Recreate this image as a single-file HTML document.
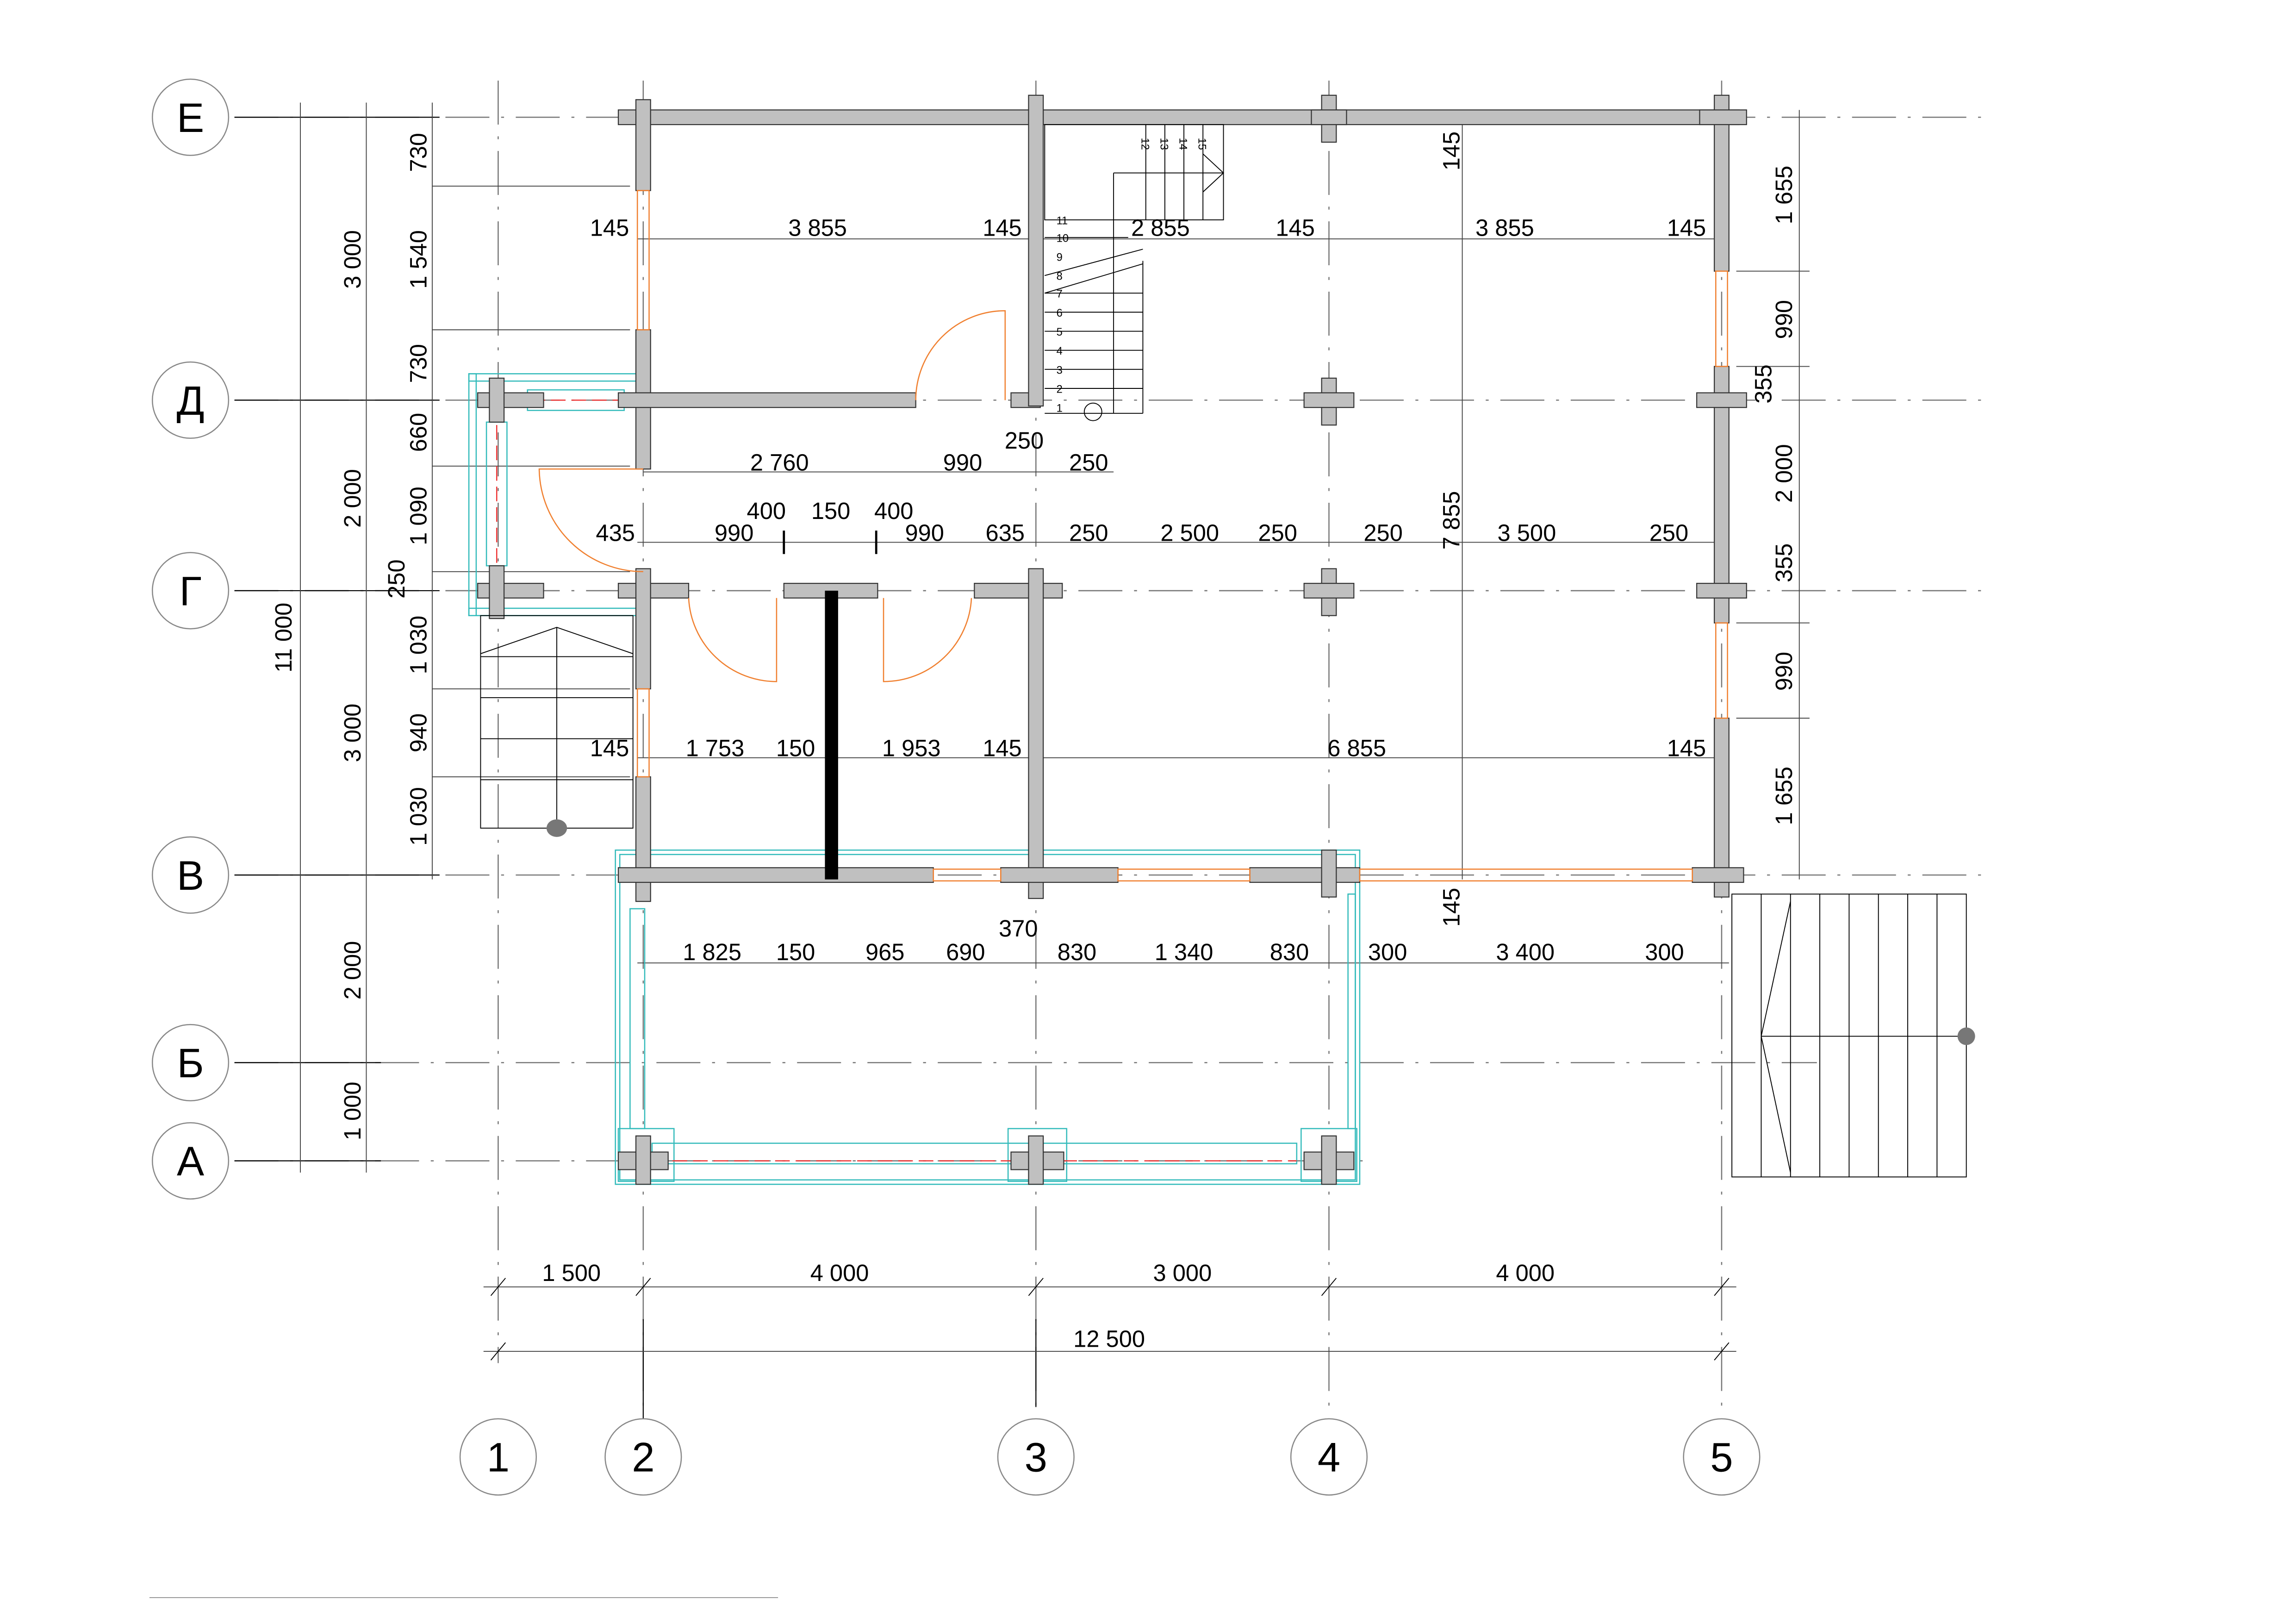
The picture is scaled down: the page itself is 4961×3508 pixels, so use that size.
<!DOCTYPE html>
<html><head><meta charset="utf-8"><style>
html,body{margin:0;padding:0;background:#fff;}
svg{display:block}
text{font-family:"Liberation Sans",sans-serif;fill:#000}
</style></head><body>
<svg width="4961" height="3508" viewBox="0 0 1567 1108" preserveAspectRatio="none" xmlns="http://www.w3.org/2000/svg">
<rect width="1567" height="1108" fill="#fff"/>
<g stroke="#777" stroke-width="0.8" stroke-dasharray="30,8,2,8" fill="none">
<line x1="160" y1="80" x2="1355" y2="80"/>
<line x1="160" y1="273" x2="1355" y2="273"/>
<line x1="160" y1="403" x2="1355" y2="403"/>
<line x1="160" y1="597" x2="1355" y2="597"/>
<line x1="160" y1="725" x2="1240" y2="725"/>
<line x1="160" y1="792" x2="930" y2="792"/>
<line x1="340" y1="55" x2="340" y2="930"/>
<line x1="439" y1="55" x2="439" y2="965"/>
<line x1="707" y1="55" x2="707" y2="965"/>
<line x1="907" y1="55" x2="907" y2="965"/>
<line x1="1175" y1="55" x2="1175" y2="965"/>
</g>
<g stroke="#000" stroke-width="0.7">
<line x1="160" y1="80" x2="300" y2="80"/><line x1="160" y1="273" x2="300" y2="273"/><line x1="160" y1="403" x2="300" y2="403"/><line x1="160" y1="597" x2="300" y2="597"/><line x1="160" y1="725" x2="260" y2="725"/><line x1="160" y1="792" x2="260" y2="792"/>
<line x1="439" y1="900" x2="439" y2="1020"/><line x1="707" y1="900" x2="707" y2="960"/>
</g>
<g fill="#fff" stroke="#888" stroke-width="0.8">
<circle cx="130" cy="80" r="26"/><circle cx="130" cy="273" r="26"/><circle cx="130" cy="403" r="26"/><circle cx="130" cy="597" r="26"/><circle cx="130" cy="725" r="26"/><circle cx="130" cy="792" r="26"/>
<circle cx="340" cy="994" r="26"/><circle cx="439" cy="994" r="26"/><circle cx="707" cy="994" r="26"/><circle cx="907" cy="994" r="26"/><circle cx="1175" cy="994" r="26"/>
</g>
<g font-size="28" text-anchor="middle">
<text x="130" y="90">Е</text><text x="130" y="283">Д</text><text x="130" y="413">Г</text><text x="130" y="607">В</text><text x="130" y="735">Б</text><text x="130" y="802">А</text>
<text x="340" y="1004">1</text><text x="439" y="1004">2</text><text x="707" y="1004">3</text><text x="907" y="1004">4</text><text x="1175" y="1004">5</text>
</g>
<g stroke="#444" stroke-width="0.6" fill="none">
<line x1="205" y1="70" x2="205" y2="800"/><line x1="250" y1="70" x2="250" y2="800"/><line x1="295" y1="70" x2="295" y2="600"/>
<line x1="295" y1="127" x2="430" y2="127"/><line x1="295" y1="225" x2="430" y2="225"/><line x1="295" y1="318" x2="430" y2="318"/><line x1="295" y1="390" x2="430" y2="390"/><line x1="295" y1="470" x2="430" y2="470"/><line x1="295" y1="530" x2="430" y2="530"/>
<line x1="1228" y1="75" x2="1228" y2="600"/><line x1="998" y1="75" x2="998" y2="600"/>
<line x1="1185" y1="185" x2="1235" y2="185"/><line x1="1185" y1="250" x2="1235" y2="250"/><line x1="1185" y1="425" x2="1235" y2="425"/><line x1="1185" y1="490" x2="1235" y2="490"/>
<line x1="435" y1="163" x2="1180" y2="163"/>
<line x1="439" y1="322" x2="760" y2="322"/>
<line x1="435" y1="370" x2="1180" y2="370"/>
<line x1="435" y1="517" x2="1180" y2="517"/>
<line x1="435" y1="657" x2="1180" y2="657"/>
<line x1="330" y1="878" x2="1185" y2="878"/>
<line x1="330" y1="922" x2="1185" y2="922"/>
<line x1="102" y1="1090" x2="531" y2="1090" stroke="#999"/>
</g>
<g stroke="#000" stroke-width="0.6">
<line x1="335" y1="884" x2="345" y2="872"/><line x1="434" y1="884" x2="444" y2="872"/><line x1="702" y1="884" x2="712" y2="872"/><line x1="902" y1="884" x2="912" y2="872"/><line x1="1170" y1="884" x2="1180" y2="872"/>
<line x1="335" y1="928" x2="345" y2="916"/><line x1="1170" y1="928" x2="1180" y2="916"/>
<line x1="535" y1="362" x2="535" y2="378" stroke-width="1.5"/><line x1="598" y1="362" x2="598" y2="378" stroke-width="1.5"/>
</g>
<g fill="none" stroke="#3bb" stroke-width="0.8">
<rect x="320" y="255" width="118" height="5"/><rect x="320" y="255" width="5" height="165"/><rect x="320" y="415" width="118" height="5"/>
<rect x="360" y="266" width="66" height="14"/><rect x="332" y="288" width="14" height="98"/>
<rect x="420" y="580" width="508" height="228"/><rect x="423" y="583" width="502" height="222"/>
<rect x="430" y="620" width="10" height="150"/><rect x="445" y="780" width="440" height="14"/>
<rect x="422" y="770" width="38" height="36"/><rect x="688" y="770" width="40" height="36"/><rect x="888" y="770" width="38" height="36"/>
<rect x="920" y="610" width="5" height="160"/>
</g>
<g stroke="#e33" stroke-width="0.8" stroke-dasharray="10,4">
<line x1="362" y1="273" x2="424" y2="273"/><line x1="339" y1="290" x2="339" y2="384"/><line x1="445" y1="792" x2="885" y2="792"/>
</g>
<g fill="#c0c0c0" stroke="#333" stroke-width="0.7">
<rect x="422" y="75" width="765" height="10"/>
<rect x="434" y="68" width="10" height="62"/>
<rect x="434" y="225" width="10" height="95"/>
<rect x="422" y="268" width="203" height="10"/>
<rect x="690" y="268" width="20" height="10"/>
<rect x="702" y="65" width="10" height="212"/>
<rect x="902" y="65" width="10" height="32"/><rect x="895" y="75" width="24" height="10"/>
<rect x="902" y="258" width="10" height="32"/><rect x="890" y="268" width="34" height="10"/>
<rect x="902" y="388" width="10" height="32"/><rect x="890" y="398" width="34" height="10"/>
<rect x="1170" y="65" width="10" height="120"/><rect x="1160" y="75" width="32" height="10"/>
<rect x="1170" y="250" width="10" height="175"/><rect x="1158" y="268" width="34" height="10"/><rect x="1158" y="398" width="34" height="10"/>
<rect x="1170" y="490" width="10" height="122"/><rect x="1155" y="592" width="35" height="10"/>
<rect x="326" y="268" width="45" height="10"/><rect x="334" y="258" width="10" height="30"/>
<rect x="326" y="398" width="45" height="10"/><rect x="334" y="386" width="10" height="36"/>
<rect x="422" y="398" width="48" height="10"/><rect x="434" y="388" width="10" height="82"/>
<rect x="535" y="398" width="64" height="10"/>
<rect x="665" y="398" width="60" height="10"/><rect x="702" y="388" width="10" height="225"/>
<rect x="434" y="530" width="10" height="85"/>
<rect x="422" y="592" width="215" height="10"/>
<rect x="683" y="592" width="80" height="10"/>
<rect x="853" y="592" width="75" height="10"/><rect x="902" y="580" width="10" height="32"/>
<rect x="422" y="786" width="34" height="12"/><rect x="434" y="775" width="10" height="33"/>
<rect x="690" y="786" width="36" height="12"/><rect x="702" y="775" width="10" height="33"/>
<rect x="890" y="786" width="34" height="12"/><rect x="902" y="775" width="10" height="33"/>
</g>
<rect x="563" y="403" width="9" height="197" fill="#000"/>
<g fill="none" stroke="#f08030" stroke-width="0.8">
<rect x="435" y="130" width="8" height="95"/><rect x="435" y="470" width="8" height="60"/>
<rect x="1171" y="185" width="8" height="65"/><rect x="1171" y="425" width="8" height="65"/>
<rect x="637" y="593" width="46" height="8"/><rect x="763" y="593" width="90" height="8"/><rect x="928" y="593" width="227" height="8"/>
<path d="M 686 273 L 686 212 A 61 61 0 0 0 625 273"/>
<path d="M 439 320 L 368 320 A 71 71 0 0 0 439 390"/>
<path d="M 470 408 A 60 60 0 0 0 530 465 L 530 408"/>
<path d="M 663 408 A 60 60 0 0 1 603 465 L 603 408"/>
</g>
<g fill="none" stroke="#000" stroke-width="0.6">
<rect x="713" y="85" width="122" height="65"/>
<line x1="782" y1="85" x2="782" y2="150"/><line x1="795" y1="85" x2="795" y2="150"/><line x1="808" y1="85" x2="808" y2="150"/><line x1="821" y1="85" x2="821" y2="150"/>
<line x1="760" y1="118" x2="835" y2="118"/><line x1="760" y1="118" x2="760" y2="282"/>
<path d="M 821 105 L 835 118 L 821 131"/>
<line x1="713" y1="162" x2="770" y2="162"/>
<path d="M 713 188 L 780 170 M 713 200 L 780 180"/>
<line x1="780" y1="178" x2="780" y2="282"/>
<line x1="713" y1="200" x2="780" y2="200"/><line x1="713" y1="213" x2="780" y2="213"/><line x1="713" y1="226" x2="780" y2="226"/><line x1="713" y1="239" x2="780" y2="239"/><line x1="713" y1="252" x2="780" y2="252"/><line x1="713" y1="265" x2="780" y2="265"/><line x1="713" y1="282" x2="780" y2="282"/>
<circle cx="746" cy="281" r="6"/>
</g>
<g font-size="7.5" text-anchor="start">
<text x="721" y="153">11</text><text x="721" y="165">10</text><text x="721" y="178">9</text><text x="721" y="191">8</text><text x="721" y="203">7</text><text x="721" y="216">6</text><text x="721" y="229">5</text><text x="721" y="242">4</text><text x="721" y="255">3</text><text x="721" y="268">2</text><text x="721" y="281">1</text>
<text transform="translate(779,94) rotate(90)">12</text><text transform="translate(792,94) rotate(90)">13</text><text transform="translate(805,94) rotate(90)">14</text><text transform="translate(818,94) rotate(90)">15</text>
</g>
<g fill="none" stroke="#000" stroke-width="0.6">
<rect x="328" y="420" width="104" height="145"/>
<line x1="328" y1="448" x2="432" y2="448"/><line x1="328" y1="476" x2="432" y2="476"/><line x1="328" y1="504" x2="432" y2="504"/><line x1="328" y1="532" x2="432" y2="532"/>
<line x1="380" y1="428" x2="380" y2="562"/><path d="M 328 446 L 380 428 L 432 446"/>
</g>
<ellipse cx="380" cy="565" rx="7" ry="6" fill="#777"/>
<g fill="none" stroke="#000" stroke-width="0.6">
<rect x="1182" y="610" width="160" height="193"/>
<line x1="1202" y1="610" x2="1202" y2="803"/><line x1="1222" y1="610" x2="1222" y2="803"/><line x1="1242" y1="610" x2="1242" y2="803"/><line x1="1262" y1="610" x2="1262" y2="803"/><line x1="1282" y1="610" x2="1282" y2="803"/><line x1="1302" y1="610" x2="1302" y2="803"/><line x1="1322" y1="610" x2="1322" y2="803"/>
<line x1="1202" y1="707" x2="1342" y2="707"/><path d="M 1222 615 L 1202 707 L 1222 800"/>
</g>
<circle cx="1342" cy="707" r="6" fill="#777"/>
<g font-size="16" text-anchor="middle">
<text x="416" y="161">145</text><text x="558" y="161">3 855</text><text x="684" y="161">145</text><text x="792" y="161">2 855</text><text x="884" y="161">145</text><text x="1027" y="161">3 855</text><text x="1151" y="161">145</text>
<text x="532" y="321">2 760</text><text x="657" y="321">990</text><text x="699" y="306">250</text><text x="743" y="321">250</text>
<text x="523" y="354">400</text><text x="567" y="354">150</text><text x="610" y="354">400</text>
<text x="420" y="369">435</text><text x="501" y="369">990</text><text x="631" y="369">990</text><text x="686" y="369">635</text><text x="743" y="369">250</text><text x="812" y="369">2 500</text><text x="872" y="369">250</text><text x="944" y="369">250</text><text x="1042" y="369">3 500</text><text x="1139" y="369">250</text>
<text x="416" y="516">145</text><text x="488" y="516">1 753</text><text x="543" y="516">150</text><text x="622" y="516">1 953</text><text x="684" y="516">145</text><text x="926" y="516">6 855</text><text x="1151" y="516">145</text>
<text x="695" y="639">370</text>
<text x="486" y="655">1 825</text><text x="543" y="655">150</text><text x="604" y="655">965</text><text x="659" y="655">690</text><text x="735" y="655">830</text><text x="808" y="655">1 340</text><text x="880" y="655">830</text><text x="947" y="655">300</text><text x="1041" y="655">3 400</text><text x="1136" y="655">300</text>
<text x="390" y="874">1 500</text><text x="573" y="874">4 000</text><text x="807" y="874">3 000</text><text x="1041" y="874">4 000</text>
<text x="757" y="919">12 500</text>
</g>
<g font-size="16" text-anchor="middle">
<text transform="translate(291,104) rotate(-90)">730</text>
<text transform="translate(291,177) rotate(-90)">1 540</text>
<text transform="translate(291,248) rotate(-90)">730</text>
<text transform="translate(291,295) rotate(-90)">660</text>
<text transform="translate(291,352) rotate(-90)">1 090</text>
<text transform="translate(276,395) rotate(-90)">250</text>
<text transform="translate(291,440) rotate(-90)">1 030</text>
<text transform="translate(291,500) rotate(-90)">940</text>
<text transform="translate(291,557) rotate(-90)">1 030</text>
<text transform="translate(246,177) rotate(-90)">3 000</text>
<text transform="translate(246,340) rotate(-90)">2 000</text>
<text transform="translate(246,500) rotate(-90)">3 000</text>
<text transform="translate(246,662) rotate(-90)">2 000</text>
<text transform="translate(246,758) rotate(-90)">1 000</text>
<text transform="translate(199,435) rotate(-90)">11 000</text>
<text transform="translate(1223,133) rotate(-90)">1 655</text>
<text transform="translate(1223,218) rotate(-90)">990</text>
<text transform="translate(1209,262) rotate(-90)">355</text>
<text transform="translate(1223,323) rotate(-90)">2 000</text>
<text transform="translate(1223,384) rotate(-90)">355</text>
<text transform="translate(1223,458) rotate(-90)">990</text>
<text transform="translate(1223,543) rotate(-90)">1 655</text>
<text transform="translate(996,103) rotate(-90)">145</text>
<text transform="translate(996,355) rotate(-90)">7 855</text>
<text transform="translate(996,619) rotate(-90)">145</text>
</g>
</svg>
</body></html>
